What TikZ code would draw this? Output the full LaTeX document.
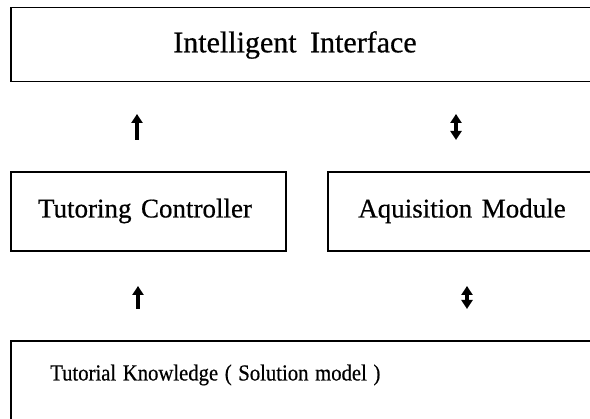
\documentclass[tikz,border=0pt]{standalone}
\usepackage{fontspec}
\setmainfont{Liberation Serif}[FakeBold=0.6]
\usetikzlibrary{arrows.meta}
\begin{document}
\begin{tikzpicture}[x=1pt,y=1pt,
  frame/.style={draw=black,line width=1.2pt,fill=none},
  lbl/.style={inner sep=0pt},
  uparrow/.style={line width=4pt,-{Triangle[width=11pt,length=9pt]}},
  duparrow/.style={line width=4pt,{Triangle[width=11pt,length=9pt]}-{Triangle[width=11pt,length=9pt]}}]
\useasboundingbox (0,0) rectangle (590,419);
\clip (0,0) rectangle (590,419);
\fill[white] (0,0) rectangle (590,419);
% boxes
\draw[frame] (11,337.5) rectangle (605,411.5);
\draw[frame] (11,168) rectangle (286,247);
\draw[frame] (328,168) rectangle (605,247);
\draw[frame] (11,-20) rectangle (605,78);
% labels
\node[lbl,anchor=center] (ii) at (295,374) {\fontsize{30}{34}\selectfont Intelligent\hspace{0.45em}Interface};
\node[lbl,anchor=center] (tc) at (145,208) {\fontsize{27}{31}\selectfont Tutoring\hspace{0.35em}Controller};
\node[lbl,anchor=center] (am) at (462,208) {\fontsize{27}{31}\selectfont Aquisition\hspace{0.35em}Module};
\node[lbl,anchor=west] (tk) at (50,44) {\scalebox{0.9}[1]{\fontsize{23}{27}\selectfont Tutorial\hspace{0.32em}Knowledge\hspace{0.32em}(\hspace{0.32em}Solution\hspace{0.32em}model\hspace{0.32em})}};
% arrow end points
\coordinate (a1s) at (137,279); \coordinate (a1e) at (137,305);
\coordinate (a2s) at (456,279); \coordinate (a2e) at (456,305);
\coordinate (a3s) at (138,110); \coordinate (a3e) at (138,133);
\coordinate (a4s) at (467,110); \coordinate (a4e) at (467,133);
\draw[uparrow] (a1s) -- (a1e);
\draw[duparrow] (a2s) -- (a2e);
\draw[uparrow] (a3s) -- (a3e);
\draw[duparrow] (a4s) -- (a4e);
\end{tikzpicture}
\end{document}
